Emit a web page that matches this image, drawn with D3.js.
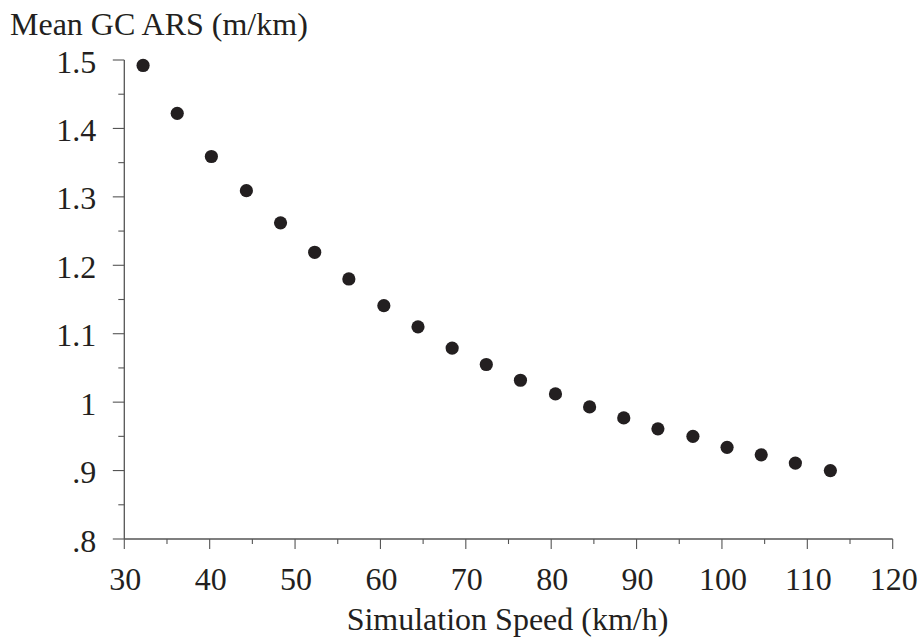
<!DOCTYPE html>
<html><head><meta charset="utf-8">
<script src="https://cdn.jsdelivr.net/npm/d3@7"></script>
<style>body{margin:0;background:#fff}svg text{font-family:"Liberation Serif","Times New Roman",serif;fill:#231f20}</style>
</head><body><div id="chart"></div>
<script>
const speeds = [32.2, 36.2, 40.2, 44.3, 48.3, 52.3, 56.3, 60.4, 64.4, 68.4, 72.4, 76.4, 80.5, 84.5, 88.5, 92.5, 96.6, 100.6, 104.6, 108.6, 112.7];
const meanARS = [1.492, 1.422, 1.359, 1.309, 1.262, 1.219, 1.180, 1.141, 1.110, 1.079, 1.055, 1.032, 1.012, 0.993, 0.977, 0.961, 0.950, 0.934, 0.923, 0.911, 0.900];
const xTicks = [30, 40, 50, 60, 70, 80, 90, 100, 110, 120];
const yTicks = [0.8, 0.9, 1.0, 1.1, 1.2, 1.3, 1.4, 1.5];
const yTickLabels = [".8", ".9", "1", "1.1", "1.2", "1.3", "1.4", "1.5"];
const yTitle = "Mean GC ARS (m/km)";
const xTitle = "Simulation Speed (km/h)";

const W = 920, H = 639;
const svg = d3.select("#chart").append("svg").attr("width", W).attr("height", H);
const x = d3.scaleLinear().domain([30, 120]).range([124.3, 892.7]);
const y = d3.scaleLinear().domain([0.8, 1.5]).range([539, 60]);
const axisColor = "#555";
const FS = 32;

const xMinor = d3.range(35, 120, 10);
const yMinor = d3.range(0.85, 1.5, 0.1);

const gx = svg.append("g").attr("transform", `translate(0,${y(0.8)})`);
gx.append("line").attr("x1", x(30)).attr("x2", x(120)).attr("stroke", axisColor).attr("stroke-width", 1.3);
gx.selectAll("line.maj").data(xTicks).join("line").attr("class","maj")
  .attr("x1", d => x(d)).attr("x2", d => x(d)).attr("y1", 0).attr("y2", 10)
  .attr("stroke", axisColor).attr("stroke-width", 1.1);
gx.selectAll("line.min").data(xMinor).join("line").attr("class","min")
  .attr("x1", d => x(d)).attr("x2", d => x(d)).attr("y1", 0).attr("y2", 5)
  .attr("stroke", axisColor).attr("stroke-width", 1.1);
gx.selectAll("text").data(xTicks).join("text")
  .attr("x", d => x(d) + 1).attr("y", 51).attr("text-anchor", "middle")
  .attr("font-size", FS).text(d => d);

const gy = svg.append("g").attr("transform", `translate(${x(30)},0)`);
gy.append("line").attr("y1", y(1.5)).attr("y2", y(0.8)).attr("stroke", axisColor).attr("stroke-width", 1.3);
gy.selectAll("line.maj").data(yTicks).join("line").attr("class","maj")
  .attr("y1", d => y(d)).attr("y2", d => y(d)).attr("x1", -11.5).attr("x2", 0)
  .attr("stroke", axisColor).attr("stroke-width", 1.1);
gy.selectAll("line.min").data(yMinor).join("line").attr("class","min")
  .attr("y1", d => y(d)).attr("y2", d => y(d)).attr("x1", -6).attr("x2", 0)
  .attr("stroke", axisColor).attr("stroke-width", 1.1);
gy.selectAll("text").data(yTicks).join("text")
  .attr("x", -28).attr("y", d => y(d) + 12.5).attr("text-anchor", "end")
  .attr("font-size", FS).text((d, i) => yTickLabels[i]);

svg.append("text").attr("x", 10).attr("y", 35).attr("font-size", FS).text(yTitle);
svg.append("text").attr("x", (348 + 667) / 2).attr("y", 630).attr("text-anchor", "middle")
  .attr("font-size", FS).text(xTitle);

svg.append("g").selectAll("circle").data(speeds).join("circle")
  .attr("cx", d => x(d)).attr("cy", (d, i) => y(meanARS[i])).attr("r", 6.6)
  .attr("fill", "#231f20");
</script></body></html>
